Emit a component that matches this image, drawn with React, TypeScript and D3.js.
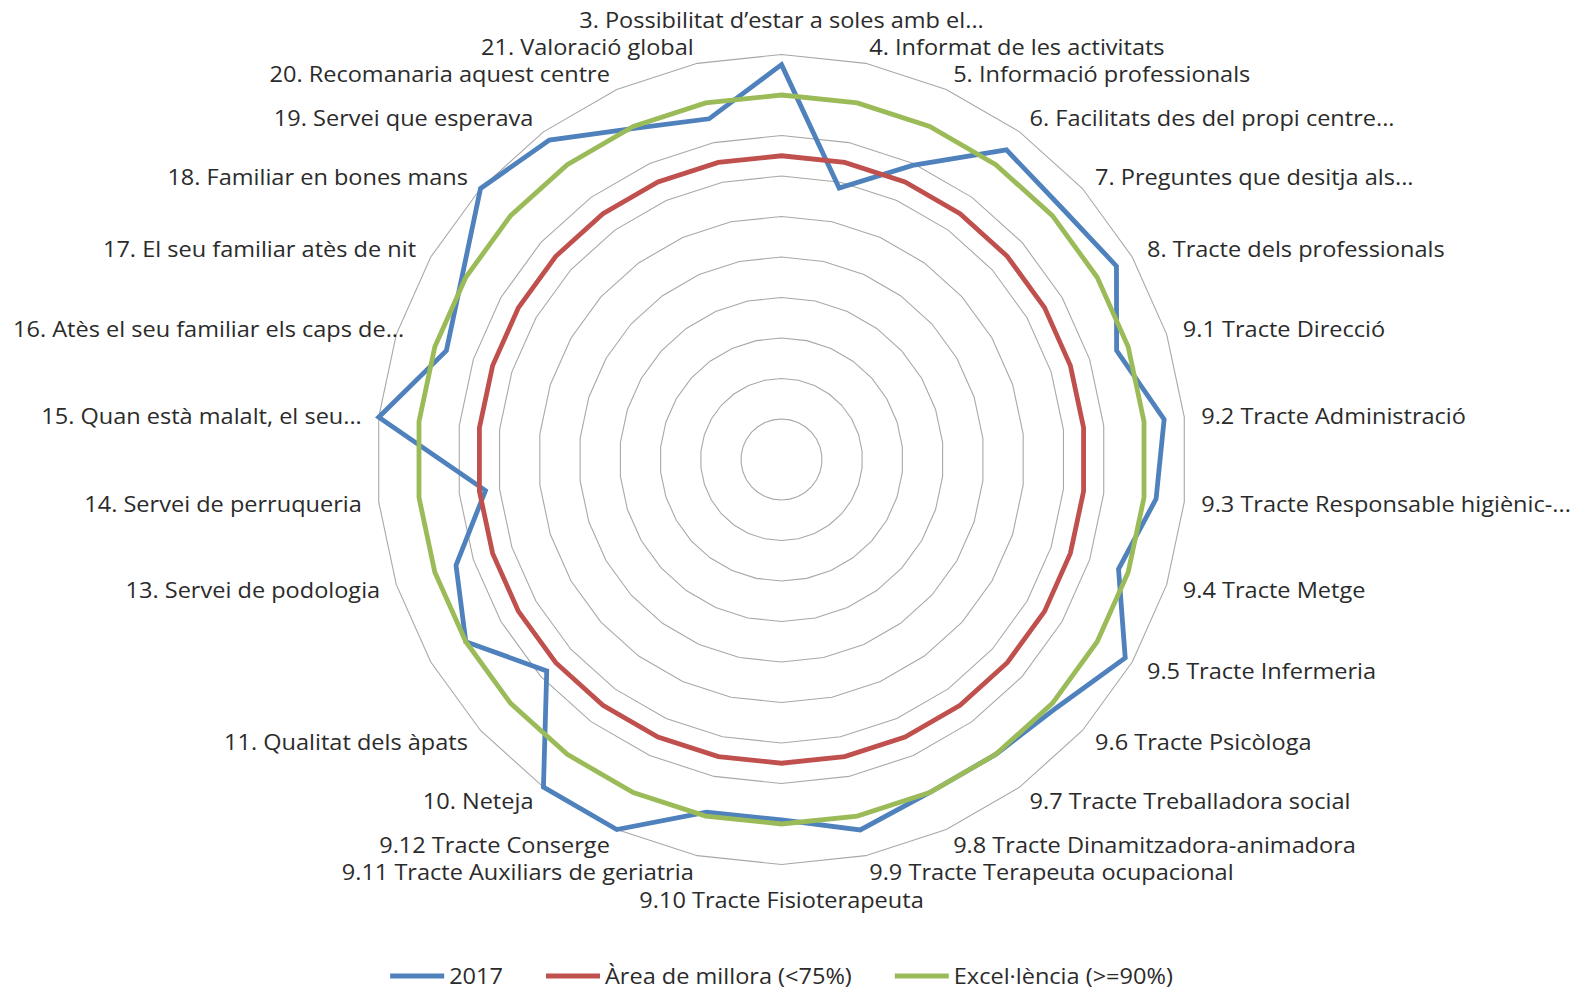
import React, { useEffect, useRef } from "react";
import * as d3 from "d3";

const categories: string[] = [
  "3. Possibilitat d’estar a soles amb el...",
  "4. Informat de les activitats",
  "5. Informació professionals",
  "6. Facilitats des del propi centre...",
  "7. Preguntes que desitja als...",
  "8. Tracte dels professionals",
  "9.1 Tracte Direcció",
  "9.2 Tracte Administració",
  "9.3 Tracte Responsable higiènic-...",
  "9.4 Tracte Metge",
  "9.5 Tracte Infermeria",
  "9.6 Tracte Psicòloga",
  "9.7 Tracte Treballadora social",
  "9.8 Tracte Dinamitzadora-animadora",
  "9.9 Tracte Terapeuta ocupacional",
  "9.10 Tracte Fisioterapeuta",
  "9.11 Tracte Auxiliars de geriatria",
  "9.12 Tracte Conserge",
  "10. Neteja",
  "11. Qualitat dels àpats",
  "",
  "13. Servei de podologia",
  "14. Servei de perruqueria",
  "15. Quan està malalt, el seu...",
  "16. Atès el seu familiar els caps de...",
  "17. El seu familiar atès de nit",
  "18. Familiar en bones mans",
  "19. Servei que esperava",
  "20. Recomanaria aquest centre",
  "21. Valoració global",
];

const values2017: number[] = [
  0.975, 0.685, 0.795, 0.945, 0.93, 0.955, 0.87, 0.95, 0.93, 0.875,
  0.98, 0.915, 0.9, 0.9, 0.935, 0.89, 0.89, 1.0, 1.0, 0.78,
  0.9, 0.845, 0.735, 1.0, 0.87, 0.91, 1.0, 0.975, 0.895, 0.86,
];
const areaMillora: number[] = categories.map(() => 0.75);
const excellencia: number[] = categories.map(() => 0.9);

const seriesNames = ["2017", "Àrea de millora (<75%)", "Excel·lència (>=90%)"];
const seriesColors = ["#4F81BD", "#C0504D", "#9BBB59"];
const gridTicks: number[] = [0.1, 0.2, 0.3, 0.4, 0.5, 0.6, 0.7, 0.8, 0.9, 1.0];

const W = 1578;
const H = 992;
const CX = 781.5;
const CY = 459.5;
const R = 405;
const FONT = "'Open Sans', sans-serif";
const FS = 22;
const SX = 1.07;
const TEXT = "#2b2b2b";

export default function App() {
  const ref = useRef<SVGSVGElement | null>(null);

  useEffect(() => {
    const svg = d3.select(ref.current);
    svg.selectAll("*").remove();
    const n = categories.length;
    const r = d3.scaleLinear().domain([0, 1]).range([0, R]);
    const ang = d3.scaleLinear().domain([0, n]).range([0, 2 * Math.PI]);
    const idx = d3.range(n);

    const g = svg.append("g").attr("transform", `translate(${CX},${CY})`);

    const ringLine = (v: number) =>
      d3
        .lineRadial<number>()
        .angle((i) => ang(i))
        .radius(() => r(v))
        .curve(d3.curveLinearClosed)(idx);

    g.selectAll("path.grid")
      .data(gridTicks)
      .join("path")
      .attr("class", "grid")
      .attr("d", (v) => ringLine(v) as string)
      .attr("fill", "none")
      .attr("stroke", "#a8a8a8")
      .attr("stroke-width", 1.1);

    const seriesData = [values2017, areaMillora, excellencia];
    const line = d3
      .lineRadial<number>()
      .angle((_, i) => ang(i))
      .radius((d) => r(d))
      .curve(d3.curveLinearClosed);

    seriesData.forEach((vals, s) => {
      g.append("path")
        .attr("d", line(vals) as string)
        .attr("fill", "none")
        .attr("stroke", seriesColors[s])
        .attr("stroke-width", 4.8)
        .attr("stroke-linejoin", "miter");
    });

    // category labels
    const off = 17;
    categories.forEach((label, i) => {
      if (!label) return;
      const a = ang(i);
      const s = Math.sin(a);
      const c = Math.cos(a);
      let x = (R + off) * s;
      let y = -(R + off) * c;
      let anchor = "middle";
      if (Math.abs(s) < 0.01) {
        y += c > 0 ? -18 : 18;
      } else {
        anchor = s > 0 ? "start" : "end";
      }
      const tg = g.append("g");
      const t = tg
        .append("text")
        .attr("x", 0)
        .attr("y", 0)
        .attr("text-anchor", anchor)
        .attr("dominant-baseline", "central")
        .attr("font-family", FONT)
        .attr("font-size", FS)
        .attr("fill", TEXT)
        .text(label);
      const w = (t.node() as SVGTextElement).getComputedTextLength() * SX;
      if (anchor === "end" && CX + x - w < 13) {
        t.attr("text-anchor", "start");
        x = 13 - CX;
      }
      tg.attr("transform", `translate(${x},${y}) scale(${SX},1)`);
    });

    // legend
    const ly = 976;
    const lineLen = 54;
    const gapText = 5;
    const gapItem = 43;
    const lg = svg.append("g");
    const widths: number[] = [];
    const items = seriesNames.map((name, i) => {
      const it = lg.append("g");
      it.append("line")
        .attr("x1", 0)
        .attr("x2", lineLen)
        .attr("y1", 0)
        .attr("y2", 0)
        .attr("stroke", seriesColors[i])
        .attr("stroke-width", 4.8);
      const t = it
        .append("text")
        .attr("x", 0)
        .attr("y", 0)
        .attr("dominant-baseline", "central")
        .attr("font-family", FONT)
        .attr("font-size", FS)
        .attr("fill", TEXT)
        .attr("transform", `translate(${lineLen + gapText},0) scale(${SX},1)`)
        .text(name);
      widths.push((t.node() as SVGTextElement).getComputedTextLength() * SX);
      return it;
    });
    const total =
      d3.sum(widths) + seriesNames.length * (lineLen + gapText) + gapItem * (seriesNames.length - 1);
    let x0 = CX - total / 2;
    items.forEach((it, i) => {
      it.attr("transform", `translate(${x0},${ly})`);
      x0 += lineLen + gapText + widths[i] + gapItem;
    });
  }, []);

  return (
    <svg
      ref={ref}
      width={W}
      height={H}
      style={{ position: "absolute", left: 0, top: 0, background: "#ffffff" }}
    />
  );
}
